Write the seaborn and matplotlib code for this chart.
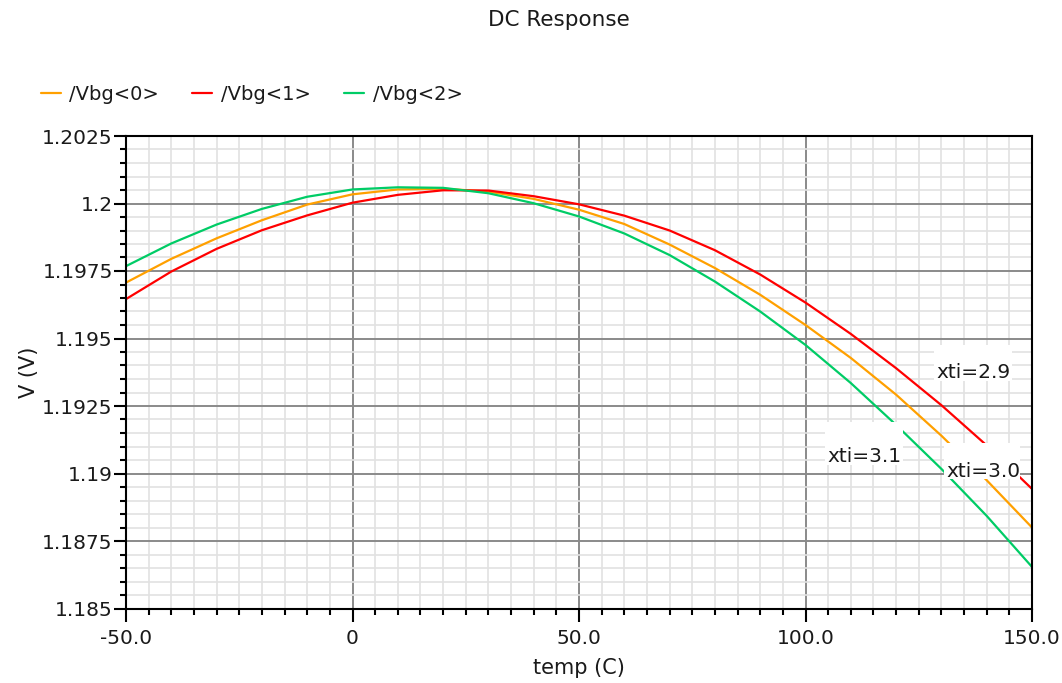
import numpy as np
import pandas as pd
import seaborn as sns
import matplotlib
matplotlib.use("Agg")
import matplotlib.pyplot as plt
from matplotlib.ticker import MultipleLocator, FixedLocator, FixedFormatter
from matplotlib.lines import Line2D
from matplotlib.patches import Rectangle

# ---------------- data ----------------
temp = [-50, -40, -30, -20, -10, 0, 10, 20, 30, 40, 50,
        60, 70, 80, 90, 100, 110, 120, 130, 140, 150]
vbg0 = [1.19707, 1.19795, 1.19871, 1.19938, 1.19996, 1.20034, 1.20052, 1.20055, 1.20044, 1.20017, 1.19977,
        1.19924, 1.19848, 1.19761, 1.19662, 1.19550, 1.19428, 1.19292, 1.19140, 1.18975, 1.18800]
vbg1 = [1.19646, 1.19748, 1.19832, 1.19901, 1.19956, 1.20003, 1.20032, 1.20049, 1.20048, 1.20027, 1.19997,
        1.19955, 1.19900, 1.19827, 1.19737, 1.19633, 1.19517, 1.19390, 1.19253, 1.19104, 1.18943]
vbg2 = [1.19768, 1.19852, 1.19922, 1.19980, 1.20025, 1.20052, 1.20060, 1.20058, 1.20038, 1.20001, 1.19952,
        1.19889, 1.19809, 1.19711, 1.19600, 1.19476, 1.19335, 1.19180, 1.19017, 1.18843, 1.18654]
series_names = ["/Vbg<0>", "/Vbg<1>", "/Vbg<2>"]
series_colors = ["#ffa000", "#ff0000", "#00cc66"]
xticks = [-50, 0, 50, 100, 150]
xtick_labels = ["-50.0", "0", "50.0", "100.0", "150.0"]
yticks = [1.185, 1.1875, 1.19, 1.1925, 1.195, 1.1975, 1.2, 1.2025]
ytick_labels = ["1.185", "1.1875", "1.19", "1.1925", "1.195", "1.1975", "1.2", "1.2025"]
# label text, text left x, baseline V, and its white backing box (x0, x1, v0, v1)
annotations = [
    ("xti=2.9", 129.0, 1.19354, (128.3, 145.5, 1.19343, 1.19476)),
    ("xti=3.1", 104.9, 1.19043, (104.3, 121.6, 1.19031, 1.19191)),
    ("xti=3.0", 131.0, 1.18987, (130.6, 147.4, 1.18980, 1.19113)),
]

df = pd.DataFrame({
    "temp": temp * 3,
    "V": vbg0 + vbg1 + vbg2,
    "signal": [series_names[0]] * len(temp) + [series_names[1]] * len(temp) + [series_names[2]] * len(temp),
})

# ---------------- figure ----------------
sns.set_style("white")
plt.rcParams['font.family'] = ['DejaVu Sans']
fig = plt.figure(figsize=(10.62, 6.83), dpi=100)
ax = fig.add_axes([126 / 1062, 1 - 608.5 / 683, (1032 - 126) / 1062, (608.5 - 136) / 683])

palette = dict(zip(series_names, series_colors))
sns.lineplot(data=df, x="temp", y="V", hue="signal", palette=palette, legend=False,
             estimator=None, sort=False, linewidth=1.6, ax=ax, zorder=3)

ax.set_xlim(-50, 150)
ax.set_ylim(1.185, 1.2025)
ax.xaxis.set_major_locator(FixedLocator(xticks))
ax.xaxis.set_major_formatter(FixedFormatter(xtick_labels))
ax.yaxis.set_major_locator(FixedLocator(yticks))
ax.yaxis.set_major_formatter(FixedFormatter(ytick_labels))
ax.xaxis.set_minor_locator(MultipleLocator(5))
ax.yaxis.set_minor_locator(MultipleLocator(0.0005))

ax.grid(which="major", color="#8a8a8a", linewidth=1.4, zorder=1)
ax.grid(which="minor", color="#e2e2e2", linewidth=1.2, zorder=0)
ax.set_axisbelow(True)
for s in ax.spines.values():
    s.set_color("black")
    s.set_linewidth(1.5)
    s.set_zorder(6)
ax.tick_params(which="major", direction="out", length=9, width=1.5, color="black",
               labelsize=14.5, labelcolor="#1a1a1a", pad=0.5, left=True, bottom=True)
ax.tick_params(which="minor", direction="out", length=4, width=1.5, color="black",
               left=True, bottom=True)
ax.tick_params(axis="x", pad=6)

ax.set_xlabel("temp (C)", fontsize=15, color="#1a1a1a", labelpad=7)
ax.set_ylabel("V (V)", fontsize=15, color="#1a1a1a", labelpad=2)

for txt, xv, yv, (bx0, bx1, by0, by1) in annotations:
    ax.add_patch(Rectangle((bx0, by0), bx1 - bx0, by1 - by0, facecolor="white",
                           edgecolor="none", zorder=4))
    ax.text(xv, yv, txt, fontsize=14.5, color="#1a1a1a", ha="left", va="baseline", zorder=5)

fig.text(559 / 1062, 1 - 20 / 683, "DC Response", ha="center", va="center", fontsize=15.5, color="#1a1a1a")

handles = [Line2D([0], [0], color=c, linewidth=1.6) for c in series_colors]
fig.legend(handles, series_names, loc="center left", bbox_to_anchor=(23 / 1062, 1 - 94 / 683),
           ncol=3, frameon=False, fontsize=14, handlelength=1.03, handletextpad=0.45,
           columnspacing=1.7, labelcolor="#1a1a1a")

fig.savefig("out.png", dpi=100)
